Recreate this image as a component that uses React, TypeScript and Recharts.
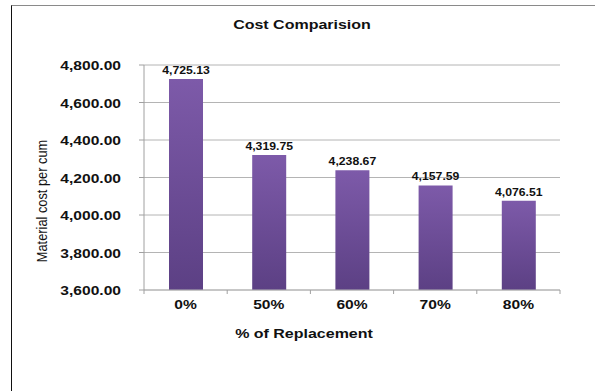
import React from "react";
import { BarChart, Bar, XAxis, YAxis, CartesianGrid, LabelList } from "recharts";

const categories = ["0%", "50%", "60%", "70%", "80%"];
const costValues = [4725.13, 4319.75, 4238.67, 4157.59, 4076.51];
const yTicks = [3600, 3800, 4000, 4200, 4400, 4600, 4800];

const data = categories.map((name, i) => ({ name, cost: costValues[i] }));

const W = 595;
const H = 391;
const FONT = "'Liberation Sans', Arial, sans-serif";
// text in this chart is drawn slightly wide
const STRETCH = 1.2;

const fmt = (v: number) =>
  v.toLocaleString("en-US", { minimumFractionDigits: 2, maximumFractionDigits: 2 });

// X tick: label at the band centre plus a tick mark at the band's boundaries
const XTick = (props: any) => {
  const { x, y, payload, index, visibleTicksCount } = props;
  const band = (560 - 144) / categories.length;
  const half = band / 2;
  const isLast = index === (visibleTicksCount ?? categories.length) - 1;
  return (
    <g>
      <line x1={x - half} y1={y - 8} x2={x - half} y2={y - 4} stroke="#a0a0a0" />
      {isLast && <line x1={x + half} y1={y - 8} x2={x + half} y2={y - 4} stroke="#a0a0a0" />}
      <text
        transform={`translate(${x},${y + 11}) scale(${STRETCH},1)`}
        textAnchor="middle"
        fontFamily={FONT}
        fontWeight="bold"
        fontSize={13}
        fill="#111"
      >
        {payload.value}
      </text>
    </g>
  );
};

const YTick = (props: any) => {
  const { x, y, payload } = props;
  return (
    <text
      transform={`translate(${x - 2},${y + 5}) scale(${STRETCH},1)`}
      textAnchor="end"
      fontFamily={FONT}
      fontWeight="bold"
      fontSize={13}
      fill="#111"
    >
      {fmt(payload.value)}
    </text>
  );
};

const ValueLabel = (props: any) => {
  const { x, y, width, value } = props;
  return (
    <text
      transform={`translate(${x + width / 2},${y - 5}) scale(${STRETCH},1)`}
      textAnchor="middle"
      fontFamily={FONT}
      fontWeight="bold"
      fontSize={10.2}
      fill="#111"
    >
      {fmt(Number(value))}
    </text>
  );
};

export default function App() {
  return (
    <div style={{ position: "absolute", left: 0, top: 0, width: W, height: H, background: "#fff" }}>
      <div
        style={{
          position: "absolute",
          left: 11,
          top: 5,
          width: W - 11,
          height: H - 5,
          borderLeft: "1.5px solid #111",
          borderTop: "1.5px solid #8a8a8a",
        }}
      />
      <div
        style={{
          position: "absolute",
          left: 302,
          top: 24,
          transform: "translate(-50%, -50%) scaleX(1.23)",
          whiteSpace: "nowrap",
          fontFamily: FONT,
          fontWeight: "bold",
          fontSize: 13,
          color: "#111",
        }}
      >
        Cost Comparision
      </div>
      <div
        style={{
          position: "absolute",
          left: 304,
          top: 333,
          transform: "translate(-50%, -50%) scaleX(1.23)",
          whiteSpace: "nowrap",
          fontFamily: FONT,
          fontWeight: "bold",
          fontSize: 13,
          color: "#111",
        }}
      >
        % of Replacement
      </div>
      <div
        style={{
          position: "absolute",
          left: 42,
          top: 201,
          transform: "translate(-50%, -50%) rotate(-90deg) scaleY(1.2)",
          whiteSpace: "nowrap",
          fontFamily: FONT,
          fontSize: 12.8,
          color: "#111",
        }}
      >
        Material cost per cum
      </div>
      <div style={{ position: "absolute", left: 0, top: 0 }}>
        <BarChart
          width={W}
          height={H}
          data={data}
          margin={{ top: 65, right: 35, left: 0, bottom: 0 }}
          barCategoryGap="0%"
        >
          <defs>
            <linearGradient id="barFill" x1="0" y1="0" x2="0" y2="1">
              <stop offset="0%" stopColor="#7d5aa9" />
              <stop offset="100%" stopColor="#5c4084" />
            </linearGradient>
          </defs>
          <CartesianGrid vertical={false} stroke="#b4b4b4" />
          <XAxis
            dataKey="name"
            height={101}
            stroke="#b4b4b4"
            tickLine={false}
            tick={<XTick />}
            interval={0}
          />
          <YAxis
            width={144}
            domain={[3600, 4800]}
            ticks={yTicks}
            allowDataOverflow
            stroke="#a0a0a0"
            tickSize={5}
            tickMargin={16}
            tick={<YTick />}
          />
          <Bar dataKey="cost" barSize={34} fill="url(#barFill)" isAnimationActive={false}>
            <LabelList dataKey="cost" content={<ValueLabel />} />
          </Bar>
        </BarChart>
      </div>
    </div>
  );
}
